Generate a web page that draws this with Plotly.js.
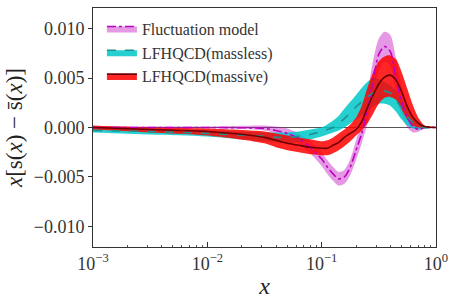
<!DOCTYPE html>
<html>
<head>
<meta charset="utf-8">
<script src="https://cdn.plot.ly/plotly-3.0.1.min.js"></script>
<style>html,body{margin:0;padding:0;background:#fff}#chart{width:457px;height:300px}</style>
</head>
<body>
<div id="chart"></div>
<script>
// shared x grid
const xGrid = [0.001, 0.00316, 0.01, 0.0316, 0.0398, 0.0501, 0.0631, 0.0794, 0.1, 0.112, 0.126, 0.141, 0.158, 0.178, 0.2, 0.224, 0.251, 0.282, 0.316, 0.355, 0.398, 0.447, 0.501, 0.562, 0.631, 0.708, 0.794, 1.0];

// Fluctuation model
const flucMid = [0, 0, 0, -0.0001, -0.0003, -0.0006, -0.0011, -0.0020, -0.0032, -0.0040, -0.0047, -0.0052, -0.0050, -0.0040, -0.0023, -0.0006, 0.0018, 0.0048, 0.0074, 0.0082, 0.0077, 0.0050, 0.0026, 0.0010, 0.0001, -0.0002, 0.0000, 0];
const flucLo  = [-0.0001, -0.0001, -0.0001, -0.0003, -0.0006, -0.0010, -0.0016, -0.0026, -0.0039, -0.0047, -0.0054, -0.0059, -0.0057, -0.0048, -0.0033, -0.0016, 0.0004, 0.0030, 0.0058, 0.0067, 0.0062, 0.0035, 0.0012, 0.0000, -0.0005, -0.0004, -0.0001, 0];
const flucHi  = [0.0001, 0.0001, 0.0001, 0.0002, 0.0001, -0.0001, -0.0006, -0.0014, -0.0025, -0.0033, -0.0040, -0.0045, -0.0043, -0.0032, -0.0013, 0.0006, 0.0034, 0.0068, 0.0090, 0.0097, 0.0094, 0.0070, 0.0042, 0.0024, 0.0010, 0.0002, 0.0001, 0];

// LFHQCD (massless)
const mlMid = [-0.0003, -0.0004, -0.0006, -0.0009, -0.0010, -0.0010, -0.0009, -0.0007, -0.0004, -0.0002, 0.0000, 0.0004, 0.0009, 0.0015, 0.0021, 0.0026, 0.0031, 0.0035, 0.0038, 0.0037, 0.0035, 0.0028, 0.0019, 0.0011, 0.0005, 0.0002, 0.0000, 0];
const mlLo  = [-0.0005, -0.0007, -0.0009, -0.0014, -0.0015, -0.0016, -0.0015, -0.0012, -0.0009, -0.0007, -0.0005, -0.0003, 0.0000, 0.0004, 0.0008, 0.0012, 0.0017, 0.0021, 0.0024, 0.0024, 0.0022, 0.0016, 0.0008, 0.0002, -0.0001, -0.0002, -0.0001, 0];
const mlHi  = [-0.0001, -0.0002, -0.0003, -0.0005, -0.0005, -0.0005, -0.0004, -0.0002, 0.0000, 0.0003, 0.0007, 0.0012, 0.0019, 0.0026, 0.0033, 0.0040, 0.0046, 0.0050, 0.0049, 0.0046, 0.0043, 0.0037, 0.0028, 0.0019, 0.0010, 0.0004, 0.0001, 0];

// LFHQCD (massive)
const mvMid = [0.0000, -0.0002, -0.0004, -0.0010, -0.0013, -0.0016, -0.0018, -0.0020, -0.0021, -0.0021, -0.0018, -0.0015, -0.0010, -0.0006, -0.0002, 0.0006, 0.0020, 0.0033, 0.0044, 0.0051, 0.0053, 0.0048, 0.0036, 0.0021, 0.0010, 0.0004, 0.0001, 0];
const mvLo  = [-0.0002, -0.0005, -0.0008, -0.0016, -0.0020, -0.0023, -0.0025, -0.0027, -0.0028, -0.0028, -0.0026, -0.0023, -0.0019, -0.0014, -0.0008, -0.0003, 0.0004, 0.0014, 0.0024, 0.0030, 0.0031, 0.0028, 0.0018, 0.0008, 0.0002, 0.0000, 0.0000, 0];
const mvHi  = [0.0002, 0.0000, -0.0001, -0.0004, -0.0006, -0.0008, -0.0010, -0.0012, -0.0014, -0.0013, -0.0010, -0.0006, -0.0002, 0.0003, 0.0010, 0.0022, 0.0040, 0.0056, 0.0067, 0.0072, 0.0073, 0.0069, 0.0056, 0.0039, 0.0022, 0.0009, 0.0002, 0];

const names = ['Fluctuation model', 'LFHQCD(massless)', 'LFHQCD(massive)'];
const xTickVals = [0.001, 0.01, 0.1, 1];
const xTickText = ['10<sup>−3</sup>', '10<sup>−2</sup>', '10<sup>−1</sup>', '10<sup>0</sup>'];
const yTickVals = [0.010, 0.005, 0.000, -0.005, -0.010];
const yTickText = ['0.010', '0.005', '0.000', '−0.005', '−0.010'];

const FONT = 'Liberation Serif';
const styles = [
  {fill: 'rgba(191,0,191,0.4)', line: '#bf00bf', dash: 'dashdot', width: 1.6},
  {fill: 'rgba(0,200,200,0.85)', line: '#1f8f8f', dash: 'dash', width: 1.6},
  {fill: 'rgba(255,0,0,0.85)', line: '#6e0000', dash: 'solid', width: 1.6}
];
const mids = [flucMid, mlMid, mvMid];
const los = [flucLo, mlLo, mvLo];
const his = [flucHi, mlHi, mvHi];

const traces = [];
for (let i = 0; i < 3; i++) {
  traces.push({x: xGrid, y: los[i], mode: 'lines', line: {width: 0, shape: 'spline', smoothing: 0.8}, showlegend: false, hoverinfo: 'skip'});
  traces.push({x: xGrid, y: his[i], mode: 'lines', fill: 'tonexty', fillcolor: styles[i].fill, line: {width: 0, shape: 'spline', smoothing: 0.8}, showlegend: false, hoverinfo: 'skip'});
}
for (let i = 0; i < 3; i++) {
  traces.push({x: xGrid, y: mids[i], mode: 'lines', line: {color: styles[i].line, dash: styles[i].dash, width: styles[i].width, shape: 'spline', smoothing: 0.8}, showlegend: false});
}
for (let i = 0; i < 3; i++) {
  traces.push({x: [null], y: [null], name: names[i], mode: 'lines', fill: 'toself', fillcolor: styles[i].fill, line: {color: styles[i].line, dash: styles[i].dash, width: styles[i].width}, showlegend: true});
}

const layout = {
  width: 457, height: 300,
  margin: {l: 93, r: 21, t: 8, b: 53},
  paper_bgcolor: '#fff', plot_bgcolor: '#fff',
  font: {family: FONT, color: '#222', size: 18},
  showlegend: true,
  legend: {x: 0.026, y: 0.985, xanchor: 'left', yanchor: 'top', traceorder: 'normal', bgcolor: 'rgba(255,255,255,0)', borderwidth: 0, font: {family: FONT, size: 16, color: '#333'}, tracegroupgap: 0},
  xaxis: {
    type: 'log', range: [-3, 0],
    tickvals: xTickVals, ticktext: xTickText,
    ticks: 'inside', ticklen: 5, tickcolor: '#333',
    minor: {ticks: 'inside', ticklen: 2.5, tickcolor: '#555', dtick: 'D1', showgrid: false},
    showgrid: false, zeroline: false,
    showline: true, linecolor: '#333', linewidth: 1, mirror: true,
    tickfont: {family: FONT, size: 18, color: '#333'},
    title: {text: '<i>x</i>', font: {family: FONT, size: 24, color: '#222'}, standoff: 4}
  },
  yaxis: {
    range: [-0.0121, 0.0121],
    tickvals: yTickVals, ticktext: yTickText,
    ticks: 'outside', ticklen: 4, tickcolor: '#333',
    showgrid: false,
    zeroline: true, zerolinecolor: '#555', zerolinewidth: 1,
    showline: true, linecolor: '#333', linewidth: 1, mirror: true,
    tickfont: {family: FONT, size: 18, color: '#333'},
    title: {text: '<i>x</i>[s(<i>x</i>) − s̄(<i>x</i>)]', font: {family: FONT, size: 23, color: '#222'}, standoff: 4}
  }
};

Plotly.newPlot('chart', traces, layout, {staticPlot: true, displayModeBar: false});
</script>
</body>
</html>
